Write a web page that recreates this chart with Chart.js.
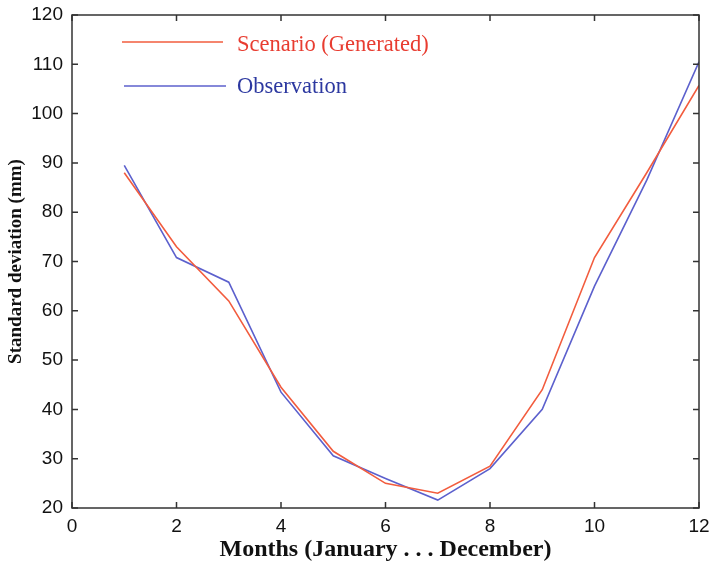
<!DOCTYPE html>
<html>
<head>
<meta charset="utf-8">
<script src="https://cdn.jsdelivr.net/npm/chart.js@4"></script>
<style>
  body { margin: 0; background: #fff; }
  #wrap { width: 712px; height: 566px; }
</style>
</head>
<body>
<div id="wrap"><canvas id="chart" width="712" height="566"></canvas></div>
<script>
// months 1..12
const months = [1, 2, 3, 4, 5, 6, 7, 8, 9, 10, 11, 12];
const scenario = [88, 73, 62, 44.5, 31.5, 25, 23, 28.5, 44, 70.8, 88, 105.7];
const observation = [89.5, 70.8, 65.8, 43.5, 30.6, 26, 21.6, 28, 40, 65, 86.5, 110.5];
const xTicks = [0, 2, 4, 6, 8, 10, 12];
const yTicks = [20, 30, 40, 50, 60, 70, 80, 90, 100, 110, 120];

const redLine = 'rgb(242, 92, 62)';
const blueLine = 'rgb(92, 96, 205)';

// frame + inward tick marks on all four sides
const framePlugin = {
    id: 'frame',
    afterDraw(chart) {
        const ctx = chart.ctx;
        const a = chart.chartArea;
        const xs = chart.scales.x, ys = chart.scales.y;
        ctx.save();
        ctx.strokeStyle = '#333';
        ctx.lineWidth = 1.5;
        ctx.strokeRect(a.left, a.top, a.right - a.left, a.bottom - a.top);
        ctx.beginPath();
        xTicks.forEach(v => {
            const px = xs.getPixelForValue(v);
            ctx.moveTo(px, a.bottom); ctx.lineTo(px, a.bottom - 6);
            ctx.moveTo(px, a.top); ctx.lineTo(px, a.top + 6);
        });
        yTicks.forEach(v => {
            const py = ys.getPixelForValue(v);
            ctx.moveTo(a.left, py); ctx.lineTo(a.left + 6, py);
            ctx.moveTo(a.right, py); ctx.lineTo(a.right - 6, py);
        });
        ctx.stroke();
        ctx.restore();
    }
};

// legend drawn inside the plot, upper left
const legendPlugin = {
    id: 'innerLegend',
    afterDatasetsDraw(chart) {
        const ctx = chart.ctx;
        const textColors = ['rgb(232, 60, 48)', 'rgb(44, 56, 160)'];
        const rows = [42, 86];
        ctx.save();
        ctx.font = '22.5px "Liberation Serif", serif';
        ctx.textBaseline = 'middle';
        chart.data.datasets.forEach((ds, i) => {
            const y = rows[i];
            ctx.strokeStyle = ds.borderColor;
            ctx.lineWidth = 1.6;
            ctx.beginPath();
            ctx.moveTo(122 + i * 2, y);
            ctx.lineTo(223 + i * 3, y);
            ctx.stroke();
            ctx.fillStyle = textColors[i];
            ctx.fillText(ds.label, 237, y + 3 - i * 2);
        });
        ctx.restore();
    }
};

new Chart(document.getElementById('chart'), {
    type: 'line',
    data: {
        labels: months,
        datasets: [
            {
                label: 'Scenario (Generated)',
                data: months.map((m, i) => ({ x: m, y: scenario[i] })),
                borderColor: redLine,
                borderWidth: 1.6,
                pointRadius: 0,
                fill: false,
                tension: 0
            },
            {
                label: 'Observation',
                data: months.map((m, i) => ({ x: m, y: observation[i] })),
                borderColor: blueLine,
                borderWidth: 1.6,
                pointRadius: 0,
                fill: false,
                tension: 0
            }
        ]
    },
    options: {
        responsive: false,
        animation: false,
        layout: { padding: { top: 15, right: 13, left: 0, bottom: 0 } },
        plugins: {
            legend: { display: false },
            tooltip: { enabled: false }
        },
        scales: {
            x: {
                type: 'linear',
                min: 0,
                max: 12,
                afterBuildTicks: axis => { axis.ticks = xTicks.map(v => ({ value: v })); },
                afterFit: axis => {
                    axis.height = 58;
                    axis.paddingLeft = 0;
                    axis.paddingRight = 0;
                },
                grid: { display: false, drawTicks: false },
                border: { display: false },
                ticks: {
                    padding: 7,
                    color: '#111',
                    font: { family: '"Liberation Sans", Arial, sans-serif', size: 19 }
                },
                title: {
                    display: true,
                    text: 'Months (January . . . December)',
                    color: '#111',
                    padding: { top: 0, bottom: 2 },
                    font: { family: '"Liberation Serif", "Times New Roman", serif', size: 24, weight: 'bold' }
                }
            },
            y: {
                type: 'linear',
                min: 20,
                max: 120,
                afterBuildTicks: axis => { axis.ticks = yTicks.map(v => ({ value: v })); },
                afterFit: axis => {
                    axis.width = 72;
                    axis.paddingTop = 0;
                    axis.paddingBottom = 0;
                },
                grid: { display: false, drawTicks: false },
                border: { display: false },
                ticks: {
                    padding: 9,
                    color: '#111',
                    font: { family: '"Liberation Sans", Arial, sans-serif', size: 19 }
                },
                title: {
                    display: true,
                    text: 'Standard deviation (mm)',
                    color: '#111',
                    padding: { top: 5, bottom: 0 },
                    font: { family: '"Liberation Serif", "Times New Roman", serif', size: 19, weight: 'bold' }
                }
            }
        }
    },
    plugins: [framePlugin, legendPlugin]
});
</script>
</body>
</html>
